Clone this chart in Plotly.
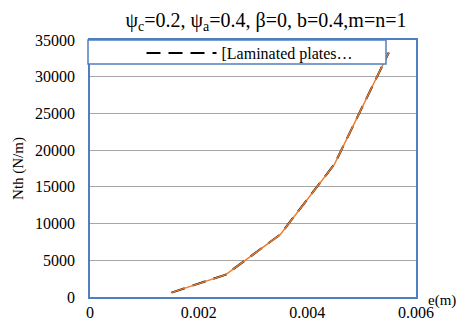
import plotly.graph_objects as go

e_vals = [0.0015, 0.0025, 0.0035, 0.0045, 0.0055]
nth_vals = [600, 3050, 8500, 18100, 33300]
series_name = "[Laminated plates…"
x_ticks = [0, 0.002, 0.004, 0.006]
x_tick_text = ["0", "0.002", "0.004", "0.006"]
y_ticks = [0, 5000, 10000, 15000, 20000, 25000, 30000, 35000]

FONT = "Liberation Serif, Times New Roman, serif"
BLUE = "#4F7FC0"

W, H = 459, 327
L, R, T, B = 90, W - 416, 40, H - 297
PW, PH = W - L - R, H - T - B


def px_to_paper(sx, sy):
    return (sx - L) / PW, 1 - (sy - T) / PH


fig = go.Figure()
fig.add_trace(go.Scatter(x=e_vals, y=nth_vals, mode="lines", name=series_name,
                         line=dict(color="black", width=2, dash="14px,8px"), showlegend=True))
fig.add_trace(go.Scatter(x=e_vals, y=nth_vals, mode="lines", name="orange",
                         line=dict(color="#ED7D31", width=1.5), showlegend=False))

em_x, em_y = px_to_paper(442, 300)
leg_x, leg_y = px_to_paper(250, 53)

fig.update_layout(
    width=W, height=H,
    margin=dict(l=L, r=R, t=T, b=B),
    paper_bgcolor="white", plot_bgcolor="white",
    font=dict(family=FONT, size=16, color="black"),
    title=dict(text="ψ<sub>c</sub>=0.2, ψ<sub>a</sub>=0.4, β=0, b=0.4,m=n=1",
               x=266/W, xanchor="center", y=1-20/H, yanchor="middle",
               font=dict(family=FONT, size=20, color="black")),
    xaxis=dict(range=[0, 0.006], tickvals=x_ticks, ticktext=x_tick_text,
               showgrid=False, showline=True, mirror=True, linecolor=BLUE, linewidth=1.5,
               ticks="", zeroline=False, tickfont=dict(size=16), automargin=False),
    yaxis=dict(range=[0, 35000], tickvals=y_ticks, tickformat="d", showgrid=True,
               gridcolor="#A6A6A6", gridwidth=1, showline=True, mirror=True,
               linecolor=BLUE, linewidth=1.5, ticks="", zeroline=False,
               tickfont=dict(size=16), automargin=False, ticklabelstandoff=10,
               title=dict(text="Nth (N/m)", font=dict(size=15), standoff=8)),
    legend=dict(x=leg_x, xanchor="center", y=leg_y, yanchor="middle",
                bgcolor="rgba(0,0,0,0)", borderwidth=0, font=dict(size=16),
                itemwidth=70),
    shapes=[dict(type="rect", xref="paper", yref="paper",
                 x0=-2/PW, x1=(386-90)/PW, y0=1-24/PH, y1=1.0,
                 line=dict(color=BLUE, width=1.5), fillcolor="white", layer="above")],
    annotations=[dict(text="e(m)", x=em_x, y=em_y, xref="paper",
                      yref="paper", xanchor="center", yanchor="middle", showarrow=False,
                      font=dict(size=15))],
)
fig.write_html(
    "out.html",
    config={"displayModeBar": False},
    post_script="document.body.style.margin='0';document.documentElement.style.overflow='hidden';document.body.style.overflow='hidden';",
)
